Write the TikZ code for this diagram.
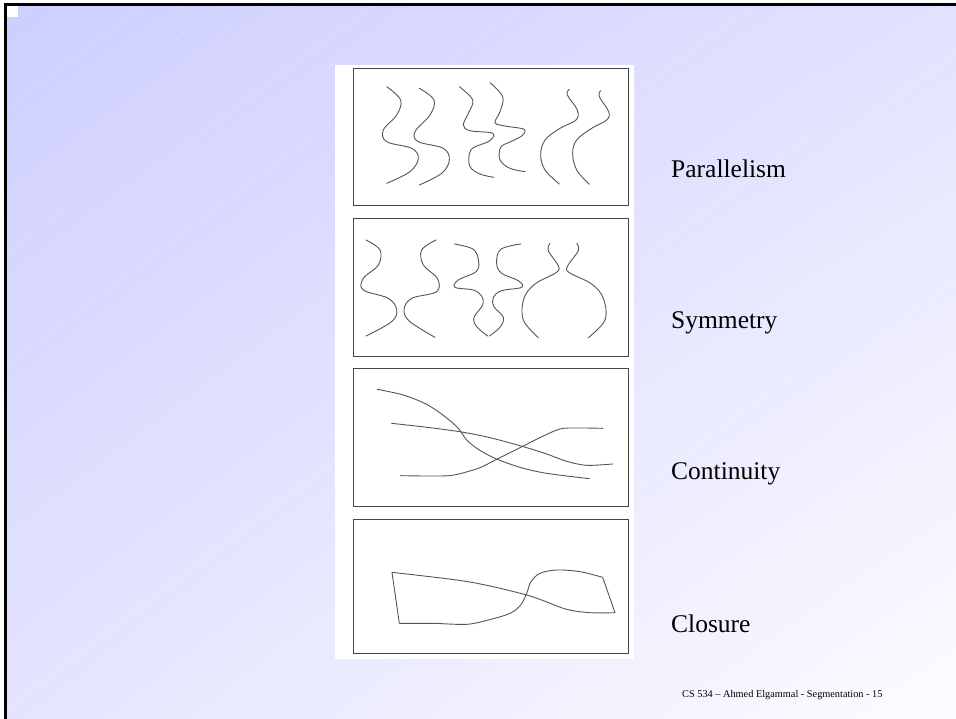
\documentclass[tikz,border=0pt]{standalone}
\usepackage{fontspec}
\setmainfont{Liberation Serif}
\usetikzlibrary{shadings}
\definecolor{bgTL}{RGB}{206,206,255}
\definecolor{bgTR}{RGB}{226,226,255}
\definecolor{bgBL}{RGB}{228,228,255}
\definecolor{bgBR}{RGB}{252,252,255}
\definecolor{inkgray}{RGB}{85,85,85}
\definecolor{framegray}{RGB}{70,70,70}
\begin{document}
\begin{tikzpicture}[x=1pt,y=-1pt,
  curve/.style={draw=inkgray, line width=0.9pt, line join=round, line cap=round},
  panel/.style={draw=framegray, line width=0.9pt, fill=white},
  cue/.style={anchor=base west, font=\fontsize{25.5}{30}\selectfont, inner sep=0pt},
  footer/.style={anchor=base west, font=\fontsize{10.3}{12}\selectfont, inner sep=0pt}]
\useasboundingbox (0,0) rectangle (956,719);
\fill[white] (0,0) rectangle (956,719);
% slide background
\shade[upper left=bgTL, upper right=bgTR, lower left=bgBL, lower right=bgBR]
  (7,6) rectangle (956,719);
\begin{scope}
  \clip (7,6) rectangle (956,719);
  \foreach \i in {0,...,48} {
    \draw[white, opacity=0.25, line width=0.5pt] (\i*38,0) -- ++(-1000,750);
  }
\end{scope}
% frame
\fill[black] (4,3) rectangle (956,6);
\fill[black] (4,3) rectangle (7,719);
\fill[white] (7,6) rectangle (18,17);
% picture panel
\fill[white] (335,65) rectangle (634,659);
\draw[panel] (353,68) rectangle (628,205);
\draw[panel] (353,218) rectangle (628,356);
\draw[panel] (353,368) rectangle (628,506);
\draw[panel] (353,519) rectangle (628,653);
% parallelism
\begin{scope}[shift={(330,60)}, scale=1/3]
  \draw[curve] plot[smooth, tension=0.6] coordinates {(170,80) (212,120) (200,165) (160,210) (170,245) (245,265) (265,295) (240,335) (170,370)};
  \draw[curve] plot[smooth, tension=0.6] coordinates {(268,85) (312,120) (300,165) (255,215) (265,245) (340,265) (358,300) (335,340) (268,375)};
  \draw[curve] plot[smooth, tension=0.6] coordinates {(388,80) (428,120) (415,160) (400,195) (420,212) (488,220) (478,243) (432,262) (418,282) (420,320) (450,342) (492,352)};
  \draw[curve] plot[smooth, tension=0.6] coordinates {(480,68) (518,110) (510,155) (495,188) (525,198) (582,208) (575,228) (540,246) (512,262) (510,300) (540,325) (585,335)};
  \draw[curve] plot[smooth, tension=0.6] coordinates {(718,88) (712,105) (742,150) (738,180) (690,205) (645,240) (632,285) (645,330) (688,372)};
  \draw[curve] plot[smooth, tension=0.6] coordinates {(812,92) (808,110) (836,155) (830,180) (785,205) (740,240) (728,280) (740,330) (778,373)};
\end{scope}
% symmetry
\begin{scope}[shift={(330,210)}, scale=1/3]
  \draw[curve] plot[smooth, tension=0.6] coordinates {(108,90) (150,120) (145,165) (100,205) (100,240) (175,265) (200,300) (185,335) (108,378)};
  \draw[curve] plot[smooth, tension=0.6] coordinates {(318,90) (275,120) (280,165) (322,205) (320,245) (245,265) (222,300) (240,335) (315,382)};
  \draw[curve] plot[smooth, tension=0.6] coordinates {(373,102) (430,118) (446,155) (438,185) (385,210) (375,232) (430,240) (455,258) (458,285) (432,322) (440,350) (473,378)};
  \draw[curve] plot[smooth, tension=0.6] coordinates {(573,102) (512,118) (500,160) (515,190) (565,212) (575,232) (515,242) (490,262) (492,290) (520,322) (510,352) (478,378)};
  \draw[curve] plot[smooth, tension=0.6] coordinates {(660,100) (655,122) (685,168) (678,188) (615,222) (582,265) (580,330) (625,383)};
  \draw[curve] plot[smooth, tension=0.6] coordinates {(740,100) (745,122) (713,168) (718,188) (785,222) (820,265) (825,330) (775,383)};
\end{scope}
% continuity
\begin{scope}[shift={(330,360)}, scale=1/3]
  \draw[curve] plot[smooth, tension=0.5] coordinates {(142,88) (220,105) (290,133) (345,170) (385,205) (410,240) (445,268) (495,295) (570,322) (650,340) (778,356)};
  \draw[curve] plot[smooth, tension=0.5] coordinates {(185,190) (300,203) (395,216) (480,233) (580,260) (650,282) (710,304) (770,316) (848,312)};
  \draw[curve] plot[smooth, tension=0.4] coordinates {(212,347) (358,347) (445,325) (500,298) (580,258) (640,228) (700,205) (818,205)};
\end{scope}
% closure
\begin{scope}[shift={(330,510)}, scale=1/3]
  \draw[curve] (186,187) -- (208,340) -- (320,340)
    plot[smooth, tension=0.55] coordinates {(320,340) (410,343) (475,330) (540,310) (572,285) (590,250) (603,215) (630,190) (680,180) (750,185) (818,202)}
    -- (855,308)
    plot[smooth, tension=0.55] coordinates {(855,308) (780,308) (710,298) (640,272) (590,255) (480,228) (380,210) (186,187)};
\end{scope}
% labels
\node[cue] (parallelism) at (671,178) {Parallelism};
\node[cue] (symmetry) at (671,329) {Symmetry};
\node[cue] (continuity) at (671,479) {Continuity};
\node[cue] (closure) at (671,632) {Closure};
\node[footer] (footer) at (682,697) {CS 534 – Ahmed Elgammal - Segmentation - 15};
\end{tikzpicture}
\end{document}
